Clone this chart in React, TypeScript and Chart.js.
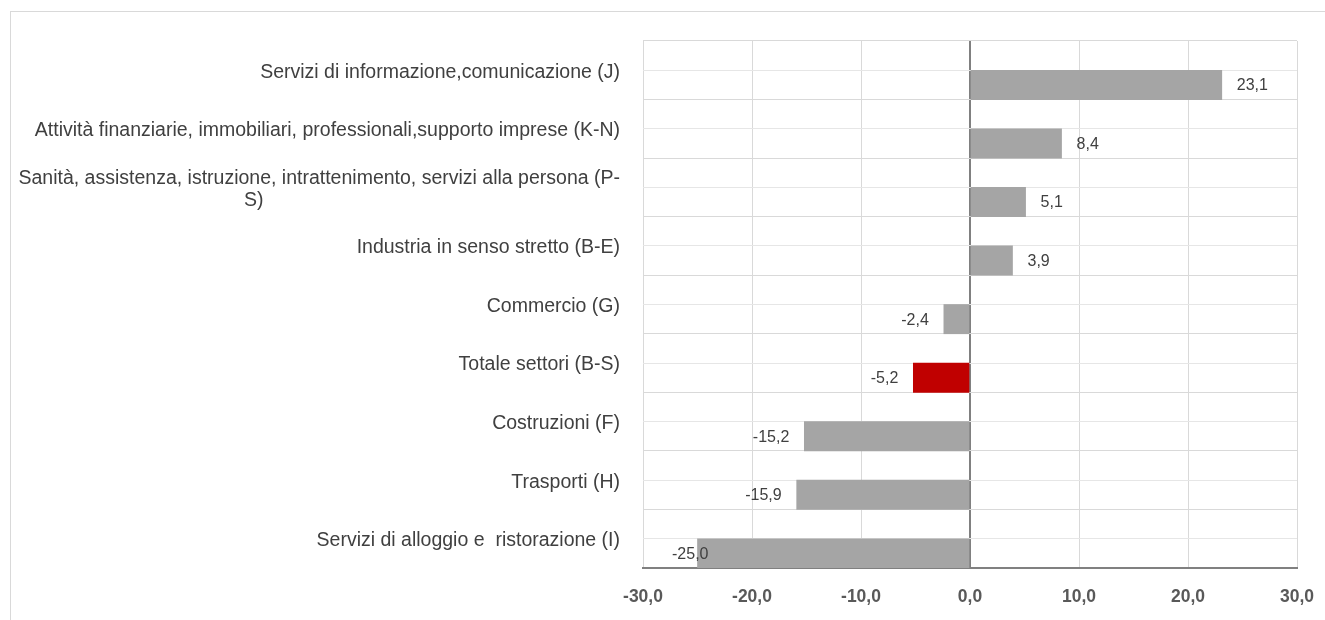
import React, { useEffect, useRef } from "react";
import { Chart, registerables } from "chart.js";

Chart.register(...registerables);

const categories: (string | string[])[] = [
  "Servizi di informazione,comunicazione (J)",
  "Attività finanziarie, immobiliari, professionali,supporto imprese (K-N)",
  ["Sanità, assistenza, istruzione, intrattenimento, servizi alla persona (P-", "S)" + "\u2003".repeat(18) + " "],
  "Industria in senso stretto (B-E)",
  "Commercio (G)",
  "Totale settori (B-S)",
  "Costruzioni (F)",
  "Trasporti (H)",
  "Servizi di alloggio e  ristorazione (I)",
];

const values: number[] = [23.1, 8.4, 5.1, 3.9, -2.4, -5.2, -15.2, -15.9, -25.0];
const spacer: (number | null)[] = [null, null, null, null, null, null, null, null, null];
const highlight: boolean[] = [false, false, false, false, false, true, false, false, false];
const xTicks: number[] = [-30, -20, -10, 0, 10, 20, 30];

const FONT = "'Liberation Sans', Arial, sans-serif";
const fmt = (v: number) => v.toFixed(1).replace(".", ",");

const labelPlugin = {
  id: "valueLabels",
  afterDatasetsDraw(chart: any) {
    const ctx = chart.ctx;
    const meta = chart.getDatasetMeta(1);
    const area = chart.chartArea;
    ctx.save();
    ctx.font = `16px ${FONT}`;
    ctx.fillStyle = "#404040";
    ctx.textBaseline = "middle";
    meta.data.forEach((el: any, i: number) => {
      const v = values[i];
      const txt = fmt(v);
      const w = ctx.measureText(txt).width;
      let left: number;
      if (v >= 0) {
        left = el.x + 15;
      } else {
        left = Math.max(el.x - 15 - w, area.left + 29);
      }
      ctx.textAlign = "left";
      ctx.fillText(txt, left, el.y + 1);
    });
    ctx.restore();
  },
};

const noPad = (scale: any) => {
  scale.paddingTop = 0;
  scale.paddingBottom = 0;
  scale.paddingLeft = 0;
  scale.paddingRight = 0;
};

export default function App() {
  const ref = useRef<HTMLCanvasElement>(null);
  useEffect(() => {
    document.documentElement.style.overflow = "hidden";
    const chart = new Chart(ref.current!, {
      type: "bar",
      data: {
        labels: categories,
        datasets: [
          {
            data: spacer,
            backgroundColor: "rgba(0,0,0,0)",
            categoryPercentage: 1,
            barPercentage: 1,
          },
          {
            data: values,
            backgroundColor: highlight.map((h) => (h ? "#c00000" : "#a5a5a5")),
            categoryPercentage: 1,
            barPercentage: 1,
          },
        ],
      },
      options: {
        indexAxis: "y",
        animation: false,
        responsive: false,
        devicePixelRatio: 1,
        layout: { padding: { top: 29, right: 28, bottom: 0, left: 0 } },
        plugins: { legend: { display: false }, tooltip: { enabled: false } },
        scales: {
          x: {
            type: "linear",
            min: -30,
            max: 30,
            afterBuildTicks: (scale: any) => {
              scale.ticks = xTicks.map((v) => ({ value: v }));
            },
            afterFit: (scale: any) => {
              scale.height = 52;
              noPad(scale);
            },
            ticks: {
              callback: (v: any) => fmt(Number(v)),
              font: { family: FONT, size: 17.5, weight: "bold" },
              color: "#595959",
              padding: 19,
              maxRotation: 0,
            },
            grid: {
              drawTicks: false,
              color: (c: any) => (c.tick && c.tick.value === 0 ? "#808080" : "#d9d9d9"),
              lineWidth: (c: any) => (c.tick && c.tick.value === 0 ? 2 : 1),
            },
            border: { display: true, color: "#808080", width: 2 },
          },
          y: {
            type: "category",
            position: "left",
            afterFit: (scale: any) => {
              scale.width = 632;
              noPad(scale);
            },
            ticks: {
              font: { family: FONT, size: 19.5, lineHeight: 1.12 },
              color: "#404040",
              padding: 23,
              labelOffset: 2,
              autoSkip: false,
            },
            grid: { offset: true, drawTicks: false, color: "#d9d9d9", lineWidth: 1 },
            border: { display: false },
          },
          y2: {
            type: "category",
            position: "left",
            offset: true,
            afterFit: (scale: any) => {
              scale.width = 0;
              noPad(scale);
            },
            ticks: { display: false },
            grid: { offset: false, drawTicks: false, color: "#e6e6e6", lineWidth: 1 },
            border: { display: false },
          },
        },
      } as any,
      plugins: [labelPlugin],
    });
    return () => chart.destroy();
  }, []);
  return (
    <div
      style={{
        position: "fixed",
        left: 10,
        top: 11,
        width: 1340,
        height: 640,
        border: "1px solid #d9d9d9",
        background: "#fff",
      }}
    >
      <canvas ref={ref} width={1314} height={608} style={{ display: "block" }} />
    </div>
  );
}
